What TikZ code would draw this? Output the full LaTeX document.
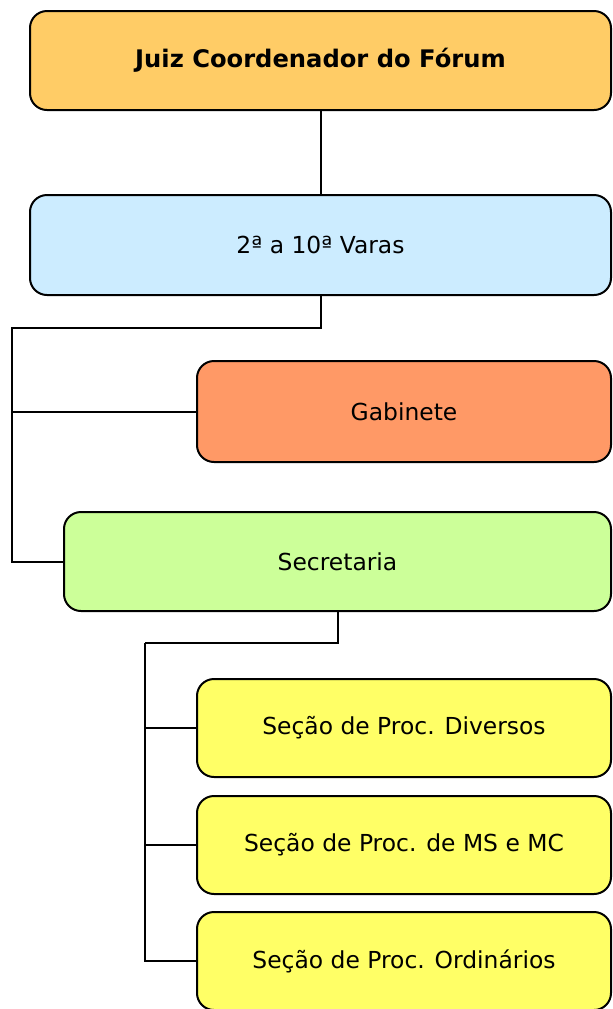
\documentclass[tikz,border=0pt]{standalone}
\usepackage{fontspec}
\setmainfont{DejaVu Sans}
\definecolor{corjuiz}{RGB}{255,204,102}
\definecolor{corvaras}{RGB}{204,236,255}
\definecolor{corgab}{RGB}{255,153,102}
\definecolor{corsec}{RGB}{204,255,153}
\definecolor{corsecao}{RGB}{255,255,102}
\tikzset{caixa/.style={draw,rounded corners=8.5pt,inner sep=0pt,font=\fontsize{11.7}{14}\selectfont}}
\begin{document}
\begin{tikzpicture}[x=0.5pt,y=-0.5pt,line width=1pt]
\useasboundingbox (0,0) rectangle (612,1009);

% caixas de cima
\node[caixa,fill=corjuiz,minimum width=290.5pt,minimum height=49.5pt,font=\fontsize{12.1}{14}\selectfont\bfseries] (juiz) at (320.5,60.5) {Juiz Coordenador do Fórum};
\node[caixa,fill=corvaras,minimum width=290.5pt,minimum height=50pt] (varas) at (320.5,245) {2ª a 10ª Varas};
\node[caixa,fill=corgab,minimum width=207pt,minimum height=50.5pt] (gab) at (404,411.5) {Gabinete};
\node[caixa,fill=corsec,minimum width=273.5pt,minimum height=49.5pt] (sec) at (337.5,561.5) {Secretaria};

% secoes
\foreach \i/\y/\texto in {1/728/{Seção de Proc. Diversos},2/845/{Seção de Proc. de MS e MC},3/961/{Seção de Proc. Ordinários}}{
	\node[caixa,fill=corsecao,minimum width=207pt,minimum height=49pt] (secao\i) at (404,\y) {\texto};
}

\coordinate (barraA) at (12,328);
\coordinate (barraB) at (145,643);

%ligacoes
\draw (juiz.south)--(varas.north);
\draw (varas.south) |- (barraA) |- (gab.west);
\draw (barraA) |- (sec.west);
\draw (sec.south) |- (barraB);
\foreach \i in {1,2,3}{
	\draw (barraB) |- (secao\i.west);
}

\end{tikzpicture}
\end{document}
